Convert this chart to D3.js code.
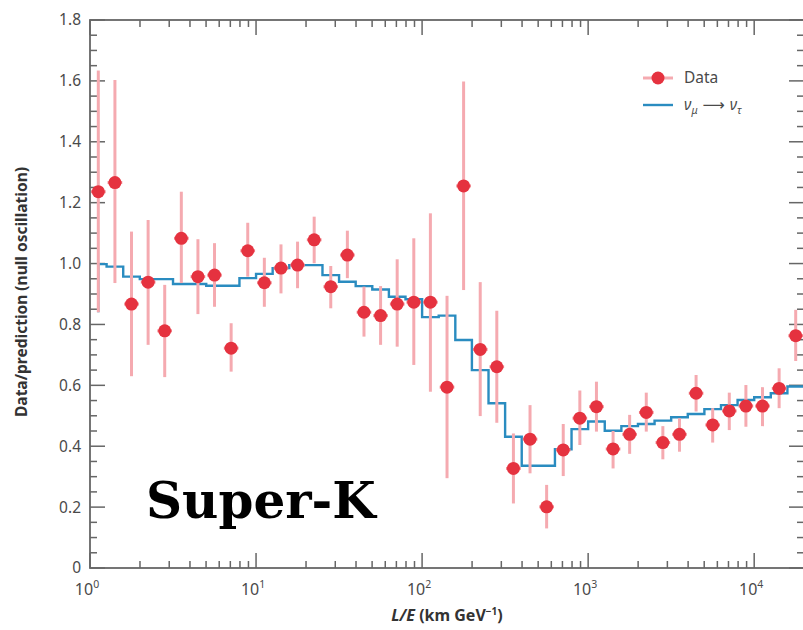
<!DOCTYPE html>
<html>
<head>
<meta charset="utf-8">
<script src="https://cdn.jsdelivr.net/npm/d3@7"></script>
<style>
  body { margin: 0; background: #fff; }
  svg { display: block; }
</style>
</head>
<body>
<script>
// L/E bin edges and centres (km/GeV), 10 bins per decade
const binEdges = [1, 1.259, 1.585, 1.995, 2.512, 3.162, 3.981, 5.012, 6.310, 7.943,
  10, 12.59, 15.85, 19.95, 25.12, 31.62, 39.81, 50.12, 63.10, 79.43,
  100, 125.9, 158.5, 199.5, 251.2, 316.2, 398.1, 501.2, 631.0, 794.3,
  1000, 1259, 1585, 1995, 2512, 3162, 3981, 5012, 6310, 7943,
  10000, 12590, 15850, 19950]
const binCenters = [1.122, 1.413, 1.778, 2.239, 2.818, 3.548, 4.467, 5.623, 7.079, 8.913,
  11.22, 14.13, 17.78, 22.39, 28.18, 35.48, 44.67, 56.23, 70.79, 89.13,
  112.2, 141.3, 177.8, 223.9, 281.8, 354.8, 446.7, 562.3, 707.9, 891.3,
  1122, 1413, 1778, 2239, 2818, 3548, 4467, 5623, 7079, 8913,
  11220, 14130, 17780]

// data / prediction (null oscillation)
const dataRatio = [1.236, 1.266, 0.867, 0.939, 0.779, 1.083, 0.957, 0.962, 0.722, 1.042,
  0.937, 0.985, 0.995, 1.078, 0.924, 1.028, 0.840, 0.829, 0.867, 0.873,
  0.873, 0.594, 1.255, 0.718, 0.661, 0.327, 0.423, 0.201, 0.388, 0.492,
  0.530, 0.391, 0.439, 0.511, 0.412, 0.439, 0.574, 0.470, 0.516, 0.532,
  0.532, 0.590, 0.763]
const errUpper = [1.634, 1.603, 1.105, 1.143, 0.930, 1.236, 1.080, 1.067, 0.804, 1.134,
  1.019, 1.063, 1.072, 1.154, 0.992, 1.108, 0.924, 0.926, 1.014, 1.083,
  1.165, 0.894, 1.598, 0.939, 0.845, 0.442, 0.535, 0.273, 0.473, 0.583,
  0.612, 0.450, 0.503, 0.576, 0.466, 0.492, 0.634, 0.525, 0.576, 0.601,
  0.594, 0.656, 0.848]
const errLower = [0.840, 0.936, 0.630, 0.733, 0.627, 0.936, 0.834, 0.858, 0.645, 0.957,
  0.858, 0.902, 0.919, 1.001, 0.853, 0.952, 0.760, 0.733, 0.727, 0.667,
  0.579, 0.295, 0.913, 0.499, 0.477, 0.212, 0.311, 0.130, 0.302, 0.404,
  0.448, 0.327, 0.375, 0.448, 0.357, 0.382, 0.514, 0.412, 0.453, 0.464,
  0.466, 0.525, 0.680]

// nu_mu -> nu_tau oscillation prediction, one value per bin
const predStart = 0.84
const prediction = [0.998, 0.990, 0.957, 0.949, 0.949, 0.933, 0.933, 0.927, 0.927, 0.952,
  0.966, 0.985, 0.995, 0.995, 0.962, 0.940, 0.926, 0.915, 0.891, 0.883,
  0.824, 0.829, 0.749, 0.650, 0.541, 0.431, 0.336, 0.336, 0.390, 0.456,
  0.481, 0.451, 0.466, 0.473, 0.484, 0.495, 0.506, 0.522, 0.535, 0.552,
  0.561, 0.574, 0.596]

const yMajorTicks = [0, 0.2, 0.4, 0.6, 0.8, 1.0, 1.2, 1.4, 1.6, 1.8]
const yTickLabels = ['0', '0.2', '0.4', '0.6', '0.8', '1.0', '1.2', '1.4', '1.6', '1.8']
const xMajorTicks = [1, 10, 100, 1000, 10000]
const xTickExponents = ['0', '1', '2', '3', '4']

// plot box
const margin = {top: 20, right: -1, bottom: 62, left: 90},
  W = 803, H = 630,
  width = W - margin.left - margin.right,
  height = H - margin.top - margin.bottom

const axisColor = '#666', labelColor = '#4a4a4a'
const sans = '"Noto Sans", "Open Sans", sans-serif'

const x = d3.scaleLog().domain([1, 19950]).range([0, width])
const y = d3.scaleLinear().domain([0, 1.8]).range([height, 0])

const svg = d3.select('body').append('svg')
    .attr('width', W)
    .attr('height', H),
  g = svg.append('g')
    .attr('transform', 'translate(' + margin.left + ',' + margin.top + ')')

svg.append('defs').append('clipPath').attr('id', 'plot')
  .append('rect').attr('width', width).attr('height', height)

// ticks, pointing inward on all four sides
const xMinor = x.ticks().filter(function (d) { return xMajorTicks.indexOf(d) < 0 })
const yMinor = d3.range(0, 1.8001, 0.05).filter(function (d) {
  return Math.abs(d / 0.2 - Math.round(d / 0.2)) > 1e-6
})
const ticks = g.append('g')
  .attr('stroke', axisColor)
  .attr('stroke-width', 1.5)

function vTicks(vals, len) {
  vals.forEach(function (d) {
    ticks.append('line').attr('x1', x(d)).attr('x2', x(d)).attr('y1', height).attr('y2', height - len)
    ticks.append('line').attr('x1', x(d)).attr('x2', x(d)).attr('y1', 0).attr('y2', len)
  })
}
function hTicks(vals, len) {
  vals.forEach(function (d) {
    ticks.append('line').attr('y1', y(d)).attr('y2', y(d)).attr('x1', 0).attr('x2', len)
    ticks.append('line').attr('y1', y(d)).attr('y2', y(d)).attr('x1', width).attr('x2', width - len)
  })
}
vTicks(xMinor, 7)
vTicks(xMajorTicks, 15)
hTicks(yMinor, 7)
hTicks(yMajorTicks, 15)

// frame
g.append('rect')
  .attr('width', width).attr('height', height)
  .attr('fill', 'none')
  .attr('stroke', axisColor)
  .attr('stroke-width', 1.8)

// y tick labels
g.selectAll('.ylab')
  .data(yMajorTicks)
  .enter().append('text')
  .attr('class', 'ylab')
  .attr('x', -9)
  .attr('y', function (d) { return y(d) })
  .attr('dy', '0.35em')
  .attr('text-anchor', 'end')
  .attr('font-family', sans)
  .attr('font-size', 15.5)
  .attr('fill', labelColor)
  .text(function (d, i) { return yTickLabels[i] })

// x tick labels: 10 with exponent
const xlab = g.selectAll('.xlab')
  .data(xMajorTicks)
  .enter().append('text')
  .attr('class', 'xlab')
  .attr('x', function (d) { return x(d) - 3 })
  .attr('y', height + 27)
  .attr('text-anchor', 'middle')
  .attr('font-family', sans)
  .attr('font-size', 16)
  .attr('fill', labelColor)
xlab.append('tspan').text('10')
xlab.append('tspan')
  .attr('dy', -7)
  .attr('font-size', 10.5)
  .text(function (d, i) { return xTickExponents[i] })

// axis titles
const xt = g.append('text')
  .attr('x', width / 2)
  .attr('y', height + 53)
  .attr('text-anchor', 'middle')
  .attr('font-family', sans)
  .attr('font-weight', 'bold')
  .attr('font-size', 16)
  .attr('fill', '#333')
xt.append('tspan').attr('font-style', 'italic').text('L/E')
xt.append('tspan').text(' (km GeV')
xt.append('tspan').attr('dy', -6).attr('font-size', 10).text('\u22121')
xt.append('tspan').attr('dy', 6).text(')')

g.append('text')
  .attr('transform', 'translate(' + (-63) + ',' + (height / 2 - 2) + ') rotate(-90)')
  .attr('text-anchor', 'middle')
  .attr('font-family', sans)
  .attr('font-weight', 'bold')
  .attr('font-size', 15.5)
  .attr('fill', '#333')
  .text('Data/prediction (null oscillation)')

const plot = g.append('g').attr('clip-path', 'url(#plot)')

// prediction step line
const stepPts = [[binCenters[0], predStart], [binCenters[0], prediction[0]]]
prediction.forEach(function (p, i) {
  if (i > 0) stepPts.push([binEdges[i], p])
})
stepPts.push([binEdges[binEdges.length - 1], prediction[prediction.length - 1]])

const line = d3.line()
  .x(function (d) { return x(d[0]) })
  .y(function (d) { return y(d[1]) })
  .curve(d3.curveStepAfter)

plot.append('path')
  .datum(stepPts)
  .attr('fill', 'none')
  .attr('stroke', '#2a8cc0')
  .attr('stroke-width', 2.4)
  .attr('d', line)

// data points with error bars
const pts = plot.selectAll('.pt')
  .data(dataRatio)
  .enter().append('g')
  .attr('class', 'pt')

pts.append('line')
  .attr('x1', function (d, i) { return x(binCenters[i]) })
  .attr('x2', function (d, i) { return x(binCenters[i]) })
  .attr('y1', function (d, i) { return y(errUpper[i]) })
  .attr('y2', function (d, i) { return y(errLower[i]) })
  .attr('stroke', '#f5aab0')
  .attr('stroke-width', 3)

pts.append('line')
  .attr('x1', function (d, i) { return x(binEdges[i]) + 1 })
  .attr('x2', function (d, i) { return x(binEdges[i + 1]) - 1 })
  .attr('y1', function (d) { return y(d) })
  .attr('y2', function (d) { return y(d) })
  .attr('stroke', '#f08088')
  .attr('stroke-width', 3)

pts.append('circle')
  .attr('cx', function (d, i) { return x(binCenters[i]) })
  .attr('cy', function (d) { return y(d) })
  .attr('r', 6.5)
  .attr('fill', '#e5323f')

// legend
const leg = svg.append('g').attr('transform', 'translate(643,78)')
leg.append('line').attr('x1', 0).attr('x2', 30).attr('y1', 0).attr('y2', 0)
  .attr('stroke', '#f5aab0').attr('stroke-width', 3)
leg.append('circle').attr('cx', 15).attr('cy', 0).attr('r', 6.5).attr('fill', '#e5323f')
leg.append('text').attr('x', 41).attr('y', 0).attr('dy', '0.35em')
  .attr('font-family', sans).attr('font-size', 15.5).attr('fill', labelColor)
  .text('Data')
leg.append('line').attr('x1', 0).attr('x2', 30).attr('y1', 27).attr('y2', 27)
  .attr('stroke', '#2a8cc0').attr('stroke-width', 2.4)
const lt = leg.append('text').attr('x', 41).attr('y', 27).attr('dy', '0.3em')
  .attr('font-family', sans).attr('font-size', 15.5).attr('fill', labelColor)
lt.append('tspan').attr('font-style', 'italic').text('\u03bd')
lt.append('tspan').attr('font-style', 'italic').attr('font-size', 10.5).attr('dy', 4).text('\u03bc')
lt.append('tspan').attr('dy', -4).attr('font-family', '"DejaVu Sans", sans-serif').text(' \u27f6 ')
lt.append('tspan').attr('font-style', 'italic').text('\u03bd')
lt.append('tspan').attr('font-style', 'italic').attr('font-size', 10.5).attr('dy', 4).text('\u03c4')

// experiment label
svg.append('text')
  .attr('x', 146)
  .attr('y', 518)
  .attr('font-family', '"DejaVu Serif", serif')
  .attr('font-weight', 'bold')
  .attr('font-size', 50)
  .attr('fill', '#000')
  .text('Super-K')
</script>
</body>
</html>
